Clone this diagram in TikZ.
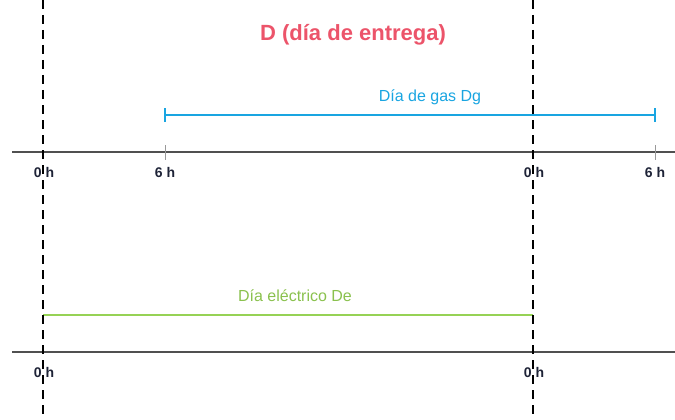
\documentclass[tikz,border=0pt]{standalone}
\usepackage{fontspec}
\setmainfont{Liberation Sans}
\definecolor{entrega}{RGB}{236,84,106}
\definecolor{gas}{RGB}{25,165,225}
\definecolor{electrico}{RGB}{150,210,85}
\definecolor{eje}{RGB}{80,80,80}
\definecolor{hora}{RGB}{30,35,55}
\begin{document}
\begin{tikzpicture}[x=1pt,y=-1pt,
  axis/.style={draw=eje,line width=2pt},
  cut/.style={draw=black,line width=1.8pt,dash pattern=on 9pt off 6pt},
  span/.style={line width=1.5pt},
  endbar/.style={line width=1.5pt},
  mark tick/.style={draw=gray!80,line width=1pt},
  hour/.style={font=\bfseries\fontsize{14}{16}\selectfont,text=hora,inner sep=1pt},
  every node/.style={inner sep=1pt}]
  \useasboundingbox (0,0) rectangle (675,420);

  % ejes
  \coordinate (topL) at (12,152);
  \coordinate (topR) at (675,152);
  \coordinate (botL) at (12,352);
  \coordinate (botR) at (675,352);
  \draw[axis] (topL) -- (topR);
  \draw[axis] (botL) -- (botR);
  \draw[mark tick] (165,145) -- (165,160);
  \draw[mark tick] (655,145) -- (655,160);

  % etiquetas de hora
  \node[hour] (t0a) at (44,172) {0 h};
  \node[hour] (t6a) at (165,172) {6 h};
  \node[hour] (t0b) at (534,172) {0 h};
  \node[hour] (t6b) at (655,172) {6 h};
  \node[hour] (b0a) at (44,372) {0 h};
  \node[hour] (b0b) at (534,372) {0 h};

  % dia de gas
  \coordinate (gasL) at (165,115);
  \coordinate (gasR) at (655,115);
  \draw[span,gas] (gasL) -- (gasR);
  \draw[endbar,gas] ([yshift=-7pt]gasL) -- ([yshift=7pt]gasL);
  \draw[endbar,gas] ([yshift=-7pt]gasR) -- ([yshift=7pt]gasR);
  \node[text=gas,font=\fontsize{16}{18}\selectfont] (gaslabel) at (430,97) {Día de gas Dg};

  % dia electrico
  \coordinate (eleL) at (43,315);
  \coordinate (eleR) at (533,315);
  \draw[span,electrico] (eleL) -- (eleR);
  \draw[endbar,electrico] ([yshift=-6pt]eleR) -- (eleR);
  \node[text=electrico!92!black,font=\fontsize{16}{18}\selectfont] (elelabel) at (295,296) {Día eléctrico De};

  % titulo
  \node[text=entrega,font=\bfseries\fontsize{22}{25}\selectfont] (title) at (353,35) {D (día de entrega)};

  % cortes de dia
  \draw[cut] (43,0) -- (43,420);
  \draw[cut] (533,0) -- (533,420);
\end{tikzpicture}
\end{document}
